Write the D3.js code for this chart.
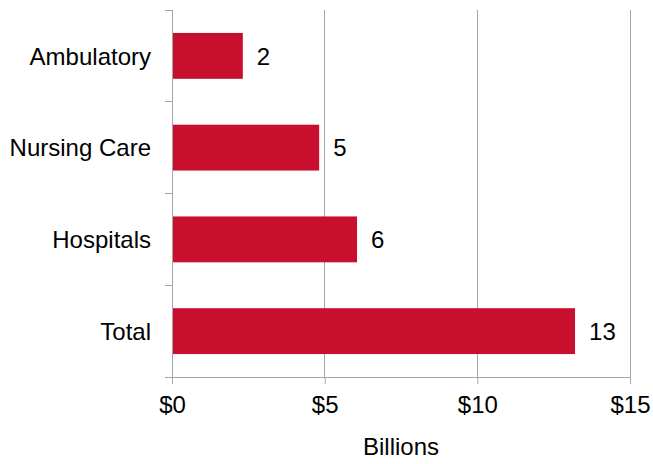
<!DOCTYPE html>
<html>
<head>
<meta charset="utf-8">
<script src="https://cdn.jsdelivr.net/npm/d3@7"></script>
<style>
  html, body { margin: 0; padding: 0; background: #fff; }
  svg { display: block; font-family: "Liberation Sans", Arial, sans-serif; }
</style>
</head>
<body>
<svg id="chart" width="653" height="464"></svg>
<script>
// Spending by sector, in billions of dollars
const categories = ["Ambulatory", "Nursing Care", "Hospitals", "Total"];
const values = [2.32, 4.82, 6.06, 13.2];
const xTicks = [0, 5, 10, 15];
const xTitle = "Billions";

const svg = d3.select("#chart");
const margin = { top: 10, right: 23, bottom: 87, left: 172 };
const width = 653 - margin.left - margin.right;
const height = 464 - margin.top - margin.bottom;
const fontSize = 24;
const barColor = "#c8102e";
const lineColor = "#a6a6a6";

const g = svg.append("g").attr("transform", `translate(${margin.left},${margin.top})`);

const x = d3.scaleLinear().domain([0, 15]).range([0, width]);
const y = d3.scaleBand().domain(categories).range([0, height]).paddingInner(0.5).paddingOuter(0.25);

// vertical gridlines
g.selectAll(".grid").data(xTicks.slice(1)).join("line")
  .attr("x1", d => x(d)).attr("x2", d => x(d))
  .attr("y1", 0).attr("y2", height)
  .attr("stroke", lineColor).attr("stroke-width", 1).attr("shape-rendering", "crispEdges");

// bars
const data = categories.map((c, i) => ({ c, v: values[i] }));
g.selectAll(".bar").data(data).join("rect")
  .attr("x", x(0))
  .attr("y", d => y(d.c))
  .attr("width", d => x(d.v) - x(0))
  .attr("height", y.bandwidth())
  .attr("fill", barColor);

// value labels
g.selectAll(".val").data(data).join("text")
  .attr("x", d => x(d.v) + 14)
  .attr("y", d => y(d.c) + y.bandwidth() / 2)
  .attr("dy", "0.36em")
  .attr("font-size", fontSize)
  .attr("fill", "#000")
  .text(d => d3.format(".0f")(d.v));

// y axis: line with ticks at band boundaries
const yAxis = g.append("g");
yAxis.append("line")
  .attr("x1", 0).attr("x2", 0).attr("y1", 0).attr("y2", height)
  .attr("stroke", lineColor).attr("shape-rendering", "crispEdges");
const boundaries = d3.range(categories.length + 1).map(i => i * (height / categories.length));
yAxis.selectAll(".yt").data(boundaries).join("line")
  .attr("x1", -7).attr("x2", 0)
  .attr("y1", d => d).attr("y2", d => d)
  .attr("stroke", lineColor).attr("shape-rendering", "crispEdges");
yAxis.selectAll(".yl").data(categories).join("text")
  .attr("x", -21)
  .attr("y", d => y(d) + y.bandwidth() / 2)
  .attr("dy", "0.36em")
  .attr("text-anchor", "end")
  .attr("font-size", fontSize)
  .attr("fill", "#000")
  .text(d => d);

// x axis
const xAxis = g.append("g")
  .attr("transform", `translate(0,${height})`)
  .call(d3.axisBottom(x).tickValues(xTicks).tickSize(7).tickPadding(12).tickFormat(d => "$" + d));
xAxis.select(".domain").attr("stroke", lineColor);
xAxis.selectAll(".tick line").attr("stroke", lineColor);
xAxis.selectAll(".tick text")
  .attr("font-size", fontSize)
  .attr("font-family", "Liberation Sans, Arial, sans-serif")
  .attr("fill", "#000");

// x axis title
g.append("text")
  .attr("x", width / 2)
  .attr("y", height + 78)
  .attr("text-anchor", "middle")
  .attr("font-size", fontSize)
  .attr("fill", "#000")
  .text(xTitle);
</script>
</body>
</html>
